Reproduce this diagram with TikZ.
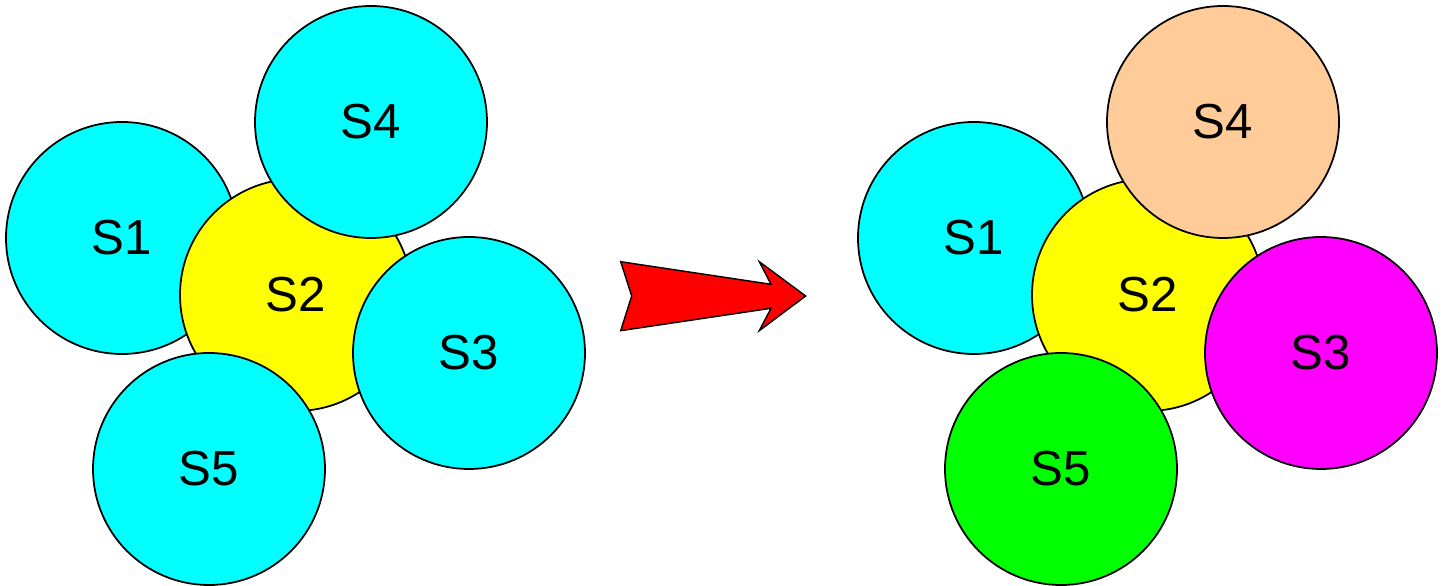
\documentclass[tikz,border=0pt]{standalone}
\usepackage{fontspec}
\setmainfont{Liberation Sans}
\usepackage{xcolor}
\usepackage{tikz}
\usetikzlibrary{positioning, calc}

\definecolor{skycyan}{HTML}{00FFFF}
\definecolor{sunyellow}{HTML}{FFFF00}
\definecolor{peach}{HTML}{FFCC99}
\definecolor{pinkmag}{HTML}{FF00FF}
\definecolor{limegreen}{HTML}{00FF00}
\definecolor{arrowred}{HTML}{FF0000}

\tikzset{
  sphere/.style={circle, draw=black, line width=0.5pt, inner sep=0pt,
    minimum size=2.32cm, font=\fontsize{14}{16}\selectfont}
}

\begin{document}
\begin{tikzpicture}
    \useasboundingbox (0,0) rectangle (14.48,5.86);

    % Before
    \node[sphere, fill=skycyan] (ls1) at (1.22,3.48) {S1};
    \node[sphere, fill=sunyellow] (ls2) at (2.96,2.91) {S2};
    \node[sphere, fill=skycyan] (ls4) at (3.71,4.64) {S4};
    \node[sphere, fill=skycyan] (ls3) at (4.69,2.33) {S3};
    \node[sphere, fill=skycyan] (ls5) at (2.09,1.17) {S5};

    % Arrow
    \filldraw[fill=arrowred, draw=black, line width=0.4pt, line join=miter]
      (6.207,3.243) -- (6.317,2.90) -- (6.207,2.553) -- (7.71,2.777)
      -- (7.593,2.553) -- (8.057,2.90) -- (7.593,3.243) -- (7.71,3.017) -- cycle;

    % After
    \node[sphere, fill=skycyan] (rs1) at (9.74,3.48) {S1};
    \node[sphere, fill=sunyellow] (rs2) at (11.48,2.91) {S2};
    \node[sphere, fill=peach] (rs4) at (12.23,4.64) {S4};
    \node[sphere, fill=pinkmag] (rs3) at (13.21,2.33) {S3};
    \node[sphere, fill=limegreen] (rs5) at (10.61,1.17) {S5};
\end{tikzpicture}
\end{document}
